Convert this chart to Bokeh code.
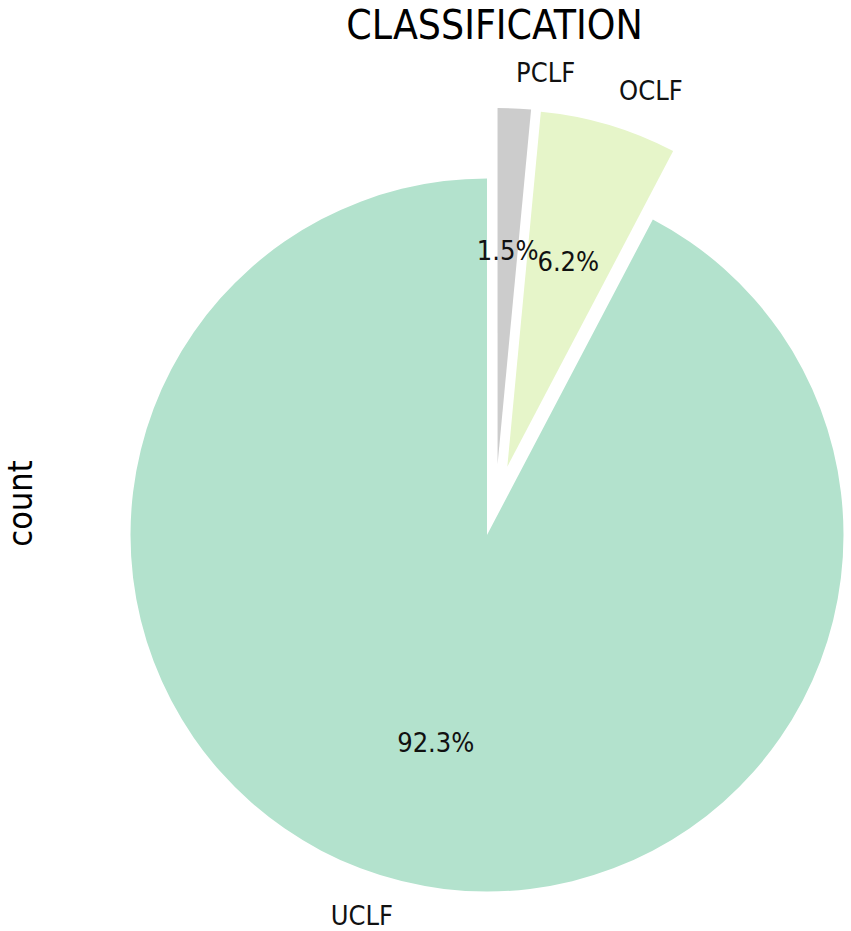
import math
from bokeh.plotting import figure
from bokeh.models import Range1d, ColumnDataSource
from bokeh.core.properties import value
from bokeh.embed import file_html
from bokeh.resources import INLINE

# ---- data ----
categories = ["UCLF", "OCLF", "PCLF"]
shares = [92.3, 6.2, 1.5]
title_text = "CLASSIFICATION"
ylabel_text = "count"

# ---- style ----
colors = ["#b3e2cd", "#e6f5c9", "#cccccc"]
explode = [0.0, 0.2, 0.2]            # offset, in radii
explode_dir = [None, None, 81.5]     # offset direction override (deg), None = mid angle

# ---- layout (pixels in picture) ----
W, H = 851, 931
CX, CY, R = 486.5, 534.5, 356.5  # pie centre and radius
FONT = "DejaVu Sans Condensed"

def dx(px):
    return (px - CX) / R

def dy(py):
    return (CY - py) / R

p = figure(width=W, height=H, output_backend="svg", toolbar_location=None,
           x_range=Range1d(dx(0), dx(W)),
           y_range=Range1d(dy(H), dy(0)),
           min_border=0, outline_line_color=None)
p.axis.visible = False
p.grid.visible = False
p.background_fill_color = "white"

total = sum(shares)
start = math.pi / 2
xs, ys, sa, ea = [], [], [], []
lx, ly, lalign, px_, py_, ptxt = [], [], [], [], [], []
for cat, s, e, ed in zip(categories, shares, explode, explode_dir):
    span = 2 * math.pi * s / total
    mid = start + span / 2
    d = mid if ed is None else math.radians(ed)
    cx = e * math.cos(d)
    cy = e * math.sin(d)
    xs.append(cx); ys.append(cy); sa.append(start); ea.append(start + span)
    lx.append(cx + 1.1 * math.cos(mid)); ly.append(cy + 1.1 * math.sin(mid))
    lalign.append("left" if math.cos(mid) > 0 else "right")
    px_.append(cx + 0.6 * math.cos(mid)); py_.append(cy + 0.6 * math.sin(mid))
    ptxt.append(f"{100 * s / total:.1f}%")
    start += span

src = ColumnDataSource(dict(x=xs, y=ys, sa=sa, ea=ea, color=colors))
p.wedge(x="x", y="y", radius=1.0, start_angle="sa", end_angle="ea",
        fill_color="color", line_color=None, source=src)

lsrc = ColumnDataSource(dict(x=lx, y=ly, t=categories, a=lalign))
p.text(x="x", y="y", text="t", text_align="a", text_baseline="middle",
       text_font=value(FONT), text_font_size="27px", text_color="#111111",
       source=lsrc)

psrc = ColumnDataSource(dict(x=px_, y=py_, t=ptxt))
p.text(x="x", y="y", text="t", text_align="center", text_baseline="middle",
       text_font=value(FONT), text_font_size="27px", text_color="#111111",
       source=psrc)

p.text(x=[dx(494)], y=[dy(24)], text=[title_text], text_align="center",
       text_baseline="middle", text_font=value(FONT),
       text_font_size="40.5px", text_color="#000000")
p.text(x=[dx(19)], y=[dy(503)], text=[ylabel_text], angle=math.pi / 2,
       text_align="center", text_baseline="middle", text_font=value(FONT),
       text_font_size="34px", text_color="#000000")

open("out.html", "w").write(file_html(p, INLINE))
